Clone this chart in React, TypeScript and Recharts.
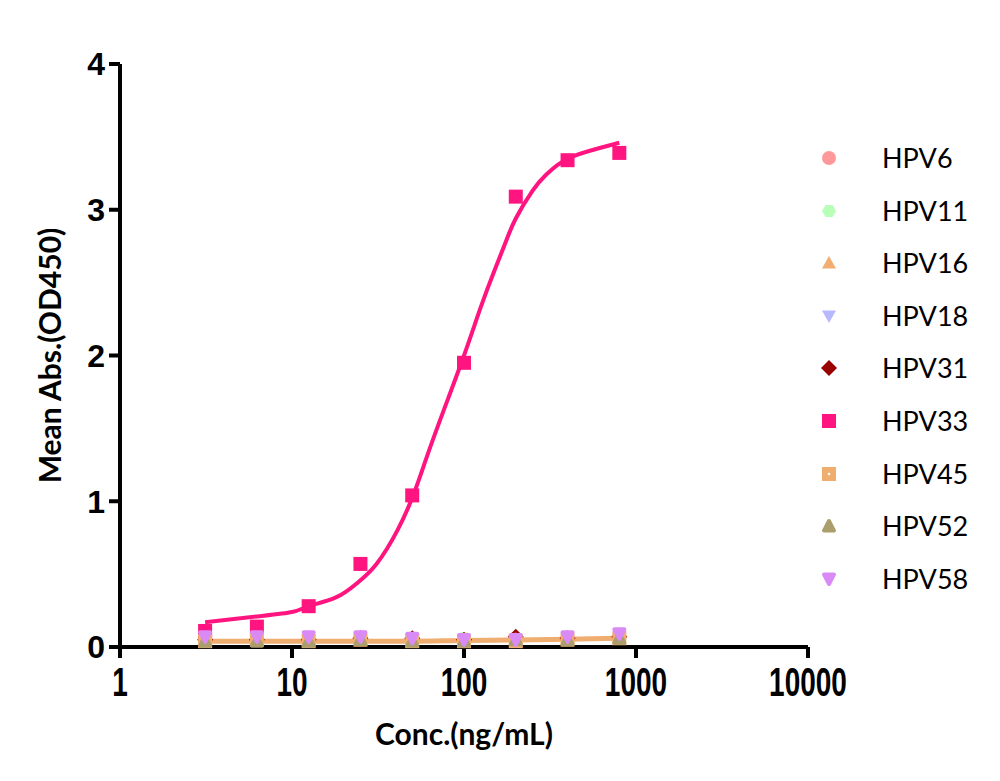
import React from 'react';
import { ComposedChart, Line, XAxis, YAxis } from 'recharts';

const conc = [3.125, 6.25, 12.5, 25, 50, 100, 200, 400, 800];

const hpv6 = [0.05, 0.05, 0.05, 0.06, 0.05, 0.05, 0.06, 0.06, 0.07];
const hpv11 = [0.05, 0.05, 0.05, 0.05, 0.05, 0.06, 0.05, 0.06, 0.07];
const hpv16 = [0.04, 0.04, 0.05, 0.05, 0.04, 0.05, 0.05, 0.06, 0.06];
const hpv18 = [0.05, 0.05, 0.05, 0.05, 0.05, 0.05, 0.05, 0.06, 0.07];
const hpv31 = [0.05, 0.05, 0.05, 0.06, 0.06, 0.05, 0.07, 0.06, 0.07];
const hpv33 = [0.11, 0.14, 0.28, 0.57, 1.04, 1.95, 3.09, 3.34, 3.39];
const hpv45 = [0.04, 0.05, 0.04, 0.05, 0.04, 0.04, 0.04, 0.05, 0.06];
const hpv52 = [0.04, 0.04, 0.04, 0.05, 0.04, 0.04, 0.05, 0.05, 0.06];
const hpv58 = [0.07, 0.07, 0.07, 0.07, 0.06, 0.05, 0.05, 0.07, 0.09];

// fitted curves
const fit33X = [3.125, 6.25, 10, 12.5, 18, 24, 31, 41, 51, 61, 76, 100, 125, 150, 175, 200, 250, 300, 400, 600, 800];
const fit33Y = [0.17, 0.21, 0.24, 0.28, 0.34, 0.44, 0.57, 0.8, 1.05, 1.31, 1.62, 2.0, 2.33, 2.58, 2.78, 2.94, 3.13, 3.24, 3.35, 3.42, 3.46];
const fitFlatY = [0.04, 0.04, 0.04, 0.04, 0.04, 0.045, 0.048, 0.053, 0.06];

const xTicks = [1, 10, 100, 1000, 10000];
const yTicks = [0, 1, 2, 3, 4];

type Shape = 'circle' | 'hex' | 'tri' | 'triDown' | 'diamond' | 'square' | 'squareDot' | 'triRound' | 'triDownRound';

const series: { name: string; values: number[]; color: string; shape: Shape }[] = [
  { name: 'HPV6', values: hpv6, color: '#FF9999', shape: 'circle' },
  { name: 'HPV11', values: hpv11, color: '#B8FFB8', shape: 'hex' },
  { name: 'HPV16', values: hpv16, color: '#F2AE70', shape: 'tri' },
  { name: 'HPV18', values: hpv18, color: '#B8B8FF', shape: 'triDown' },
  { name: 'HPV31', values: hpv31, color: '#990000', shape: 'diamond' },
  { name: 'HPV33', values: hpv33, color: '#FF1480', shape: 'square' },
  { name: 'HPV45', values: hpv45, color: '#F0AD70', shape: 'squareDot' },
  { name: 'HPV52', values: hpv52, color: '#AB9E6C', shape: 'triRound' },
  { name: 'HPV58', values: hpv58, color: '#D98AF5', shape: 'triDownRound' },
];

const Marker = ({ cx, cy, color, shape }: { cx: number; cy: number; color: string; shape: Shape }) => {
  const s = 7;
  switch (shape) {
    case 'circle':
      return <circle cx={cx} cy={cy} r={s} fill={color} />;
    case 'hex': {
      const pts = [0, 60, 120, 180, 240, 300]
        .map((a) => `${cx + s * Math.cos((a * Math.PI) / 180)},${cy + s * Math.sin((a * Math.PI) / 180)}`)
        .join(' ');
      return <polygon points={pts} fill={color} />;
    }
    case 'tri':
      return <polygon points={`${cx},${cy - s} ${cx + s},${cy + s * 0.8} ${cx - s},${cy + s * 0.8}`} fill={color} />;
    case 'triDown':
      return <polygon points={`${cx - s},${cy - s * 0.8} ${cx + s},${cy - s * 0.8} ${cx},${cy + s}`} fill={color} />;
    case 'diamond':
      return <polygon points={`${cx},${cy - s - 1} ${cx + s + 1},${cy} ${cx},${cy + s + 1} ${cx - s - 1},${cy}`} fill={color} />;
    case 'square':
      return <rect x={cx - s} y={cy - s} width={s * 2} height={s * 2} fill={color} />;
    case 'squareDot':
      return (
        <g>
          <rect x={cx - s} y={cy - s} width={s * 2} height={s * 2} fill={color} />
          <circle cx={cx} cy={cy} r={1.3} fill="#fff" />
        </g>
      );
    case 'triRound':
      return (
        <polygon
          points={`${cx},${cy - s + 2} ${cx + s - 2},${cy + s * 0.8 - 1} ${cx - s + 2},${cy + s * 0.8 - 1}`}
          fill={color}
          stroke={color}
          strokeWidth={4}
          strokeLinejoin="round"
        />
      );
    case 'triDownRound':
      return (
        <polygon
          points={`${cx - s + 2},${cy - s * 0.8 + 1} ${cx + s - 2},${cy - s * 0.8 + 1} ${cx},${cy + s - 2}`}
          fill={color}
          stroke={color}
          strokeWidth={4}
          strokeLinejoin="round"
        />
      );
  }
  return null;
};

// narrow bold digits for the log axis
const XTick = ({ x, y, payload }: any) => (
  <g transform={`translate(${x},${y})`}>
    <text
      transform="scale(0.7,1)"
      textAnchor="middle"
      dy={34}
      fill="#000"
      fontSize={40}
      fontWeight={700}
      fontFamily='"Liberation Sans", Arial, sans-serif'
    >
      {payload.value}
    </text>
  </g>
);

const legendTop = 158;
const legendStep = 52.6;

export default function App() {
  const fit33 = fit33X.map((x, i) => ({ x, y: fit33Y[i] }));
  const fitFlat = conc.map((x, i) => ({ x, y: fitFlatY[i] }));

  return (
    <div style={{ position: 'absolute', left: 0, top: 0, width: 1000, height: 781, background: '#fff' }}>
      <ComposedChart width={1000} height={781} margin={{ top: 64, right: 192, bottom: 0, left: 0 }}>
        <XAxis
          type="number"
          dataKey="x"
          scale="log"
          domain={[1, 10000]}
          ticks={xTicks}
          allowDataOverflow
          height={134}
          stroke="#000"
          strokeWidth={4}
          tickSize={11}
          tickLine={{ stroke: '#000', strokeWidth: 4 }}
          tick={<XTick />}
          tickMargin={4}
          label={{
            value: 'Conc.(ng/mL)',
            position: 'insideBottom',
            offset: 36,
            fill: '#000',
            fontSize: 30,
            fontWeight: 700,
            fontFamily: 'Lato, sans-serif',
          }}
        />
        <YAxis
          type="number"
          dataKey="y"
          domain={[0, 4]}
          ticks={yTicks}
          width={120}
          stroke="#000"
          strokeWidth={4}
          tickSize={11}
          tickLine={{ stroke: '#000', strokeWidth: 4 }}
          tick={{ fill: '#000', fontSize: 32, fontWeight: 700, fontFamily: '"Liberation Sans", Arial, sans-serif' }}
          tickMargin={4}
          label={{
            value: 'Mean Abs.(OD450)',
            angle: -90,
            position: 'insideLeft',
            offset: 50,
            style: { textAnchor: 'middle' },
            fill: '#000',
            fontSize: 30,
            fontWeight: 700,
            fontFamily: 'Lato, sans-serif',
          }}
        />
        {series.map((s) => (
          <Line
            key={s.name}
            data={conc.map((x, i) => ({ x, y: s.values[i] }))}
            dataKey="y"
            stroke="none"
            isAnimationActive={false}
            activeDot={false}
            dot={(p: any) => <Marker key={`${s.name}-${p.index}`} cx={p.cx} cy={p.cy} color={s.color} shape={s.shape} />}
          />
        ))}
        <Line
          data={fit33}
          dataKey="y"
          type="natural"
          stroke="#FF1480"
          strokeWidth={4}
          dot={false}
          activeDot={false}
          isAnimationActive={false}
        />
        <Line
          data={fitFlat}
          dataKey="y"
          type="monotone"
          stroke="#F0AD70"
          strokeWidth={5}
          dot={false}
          activeDot={false}
          isAnimationActive={false}
        />
      </ComposedChart>
      {series.map((s, i) => (
        <div key={s.name}>
          <svg
            width={24}
            height={24}
            style={{ position: 'absolute', left: 817, top: legendTop + i * legendStep - 12 }}
          >
            <Marker cx={12} cy={12} color={s.color} shape={s.shape} />
          </svg>
          <div
            style={{
              position: 'absolute',
              left: 882,
              top: legendTop + i * legendStep - 17,
              fontFamily: 'Lato, sans-serif',
              fontSize: 27,
              lineHeight: '34px',
              color: '#000',
            }}
          >
            {s.name}
          </div>
        </div>
      ))}
    </div>
  );
}
